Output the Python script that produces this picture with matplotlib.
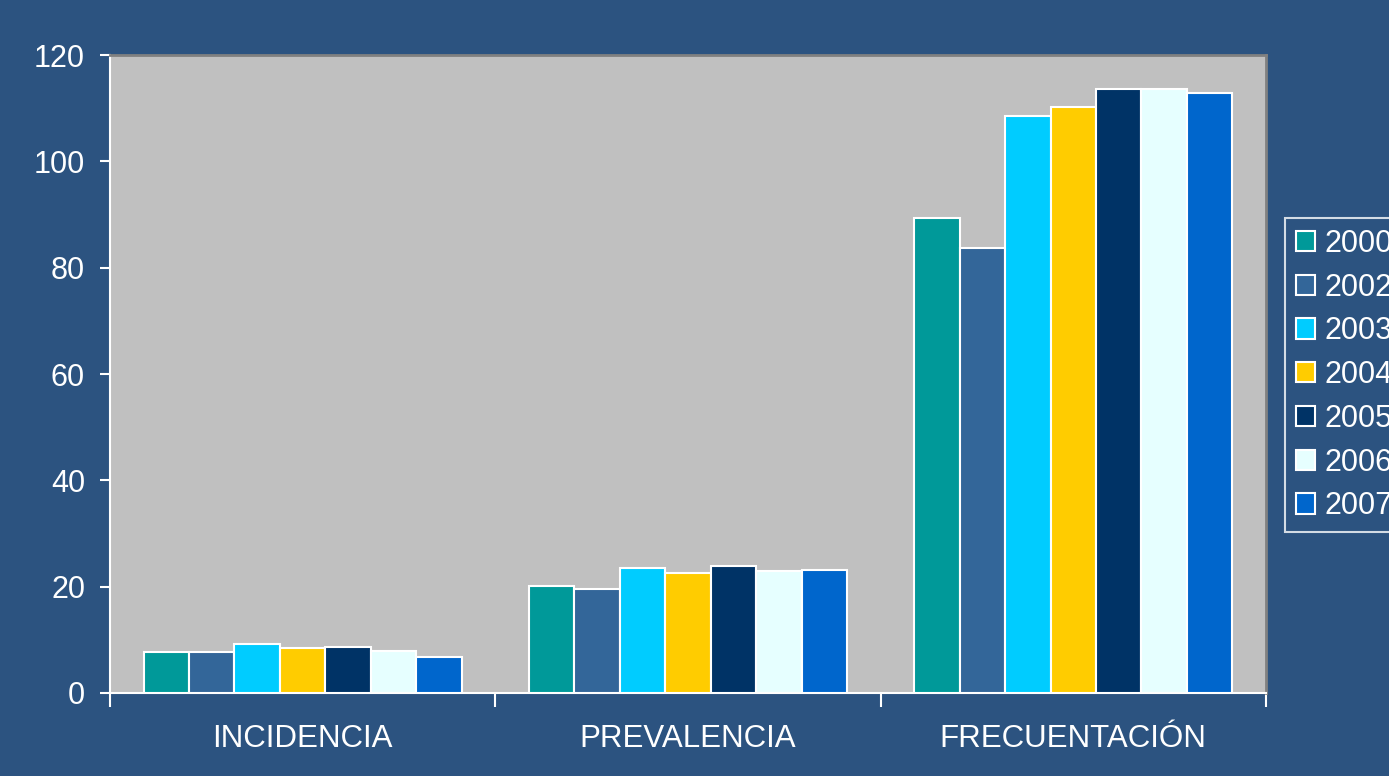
import numpy as np
import matplotlib
matplotlib.use("Agg")
import matplotlib.pyplot as plt

plt.rcParams['font.family'] = ['Liberation Sans', 'DejaVu Sans']

# datos
categorias = ['INCIDENCIA', 'PREVALENCIA', 'FRECUENTACIÓN']
anios = ['2000', '2002', '2003', '2004', '2005', '2006', '2007']
valores = {
    '2000': [7.7, 20.1, 89.3],
    '2002': [7.7, 19.5, 83.8],
    '2003': [9.3, 23.5, 108.5],
    '2004': [8.5, 22.6, 110.3],
    '2005': [8.7, 23.8, 113.7],
    '2006': [7.9, 23.0, 113.7],
    '2007': [6.8, 23.1, 112.8],
}
colores = ['#009999', '#336699', '#00CCFF', '#FFCC00', '#003366', '#E6FFFF', '#0066CC']

fondo = '#2C5380'

fig = plt.figure(figsize=(13.89, 7.76), dpi=100, facecolor=fondo)
ax = fig.add_axes([0.0792, 0.107, 0.8322, 0.822])
ax.set_facecolor('#C0C0C0')

x = np.arange(len(categorias))
ancho = 0.118
for i, anio in enumerate(anios):
    desp = (i - (len(anios) - 1) / 2) * ancho
    ax.bar(x + desp, valores[anio], width=ancho, color=colores[i],
           edgecolor='white', linewidth=1.5, label=anio, zorder=3)

ax.set_xlim(-0.5, len(categorias) - 0.5)
ax.set_ylim(0, 120)
ax.set_yticks(range(0, 121, 20))

# etiquetas de categoría centradas, ticks en los límites
ax.set_xticks(x)
ax.set_xticklabels(categorias)
ax.set_xticks(np.arange(-0.5, len(categorias), 1), minor=True)
ax.tick_params(axis='x', which='major', length=0, pad=22, labelsize=22.5, colors='white')
ax.tick_params(axis='x', which='minor', length=10, width=1.5, color='white')
ax.tick_params(axis='y', length=7, width=1.5, color='white', labelsize=22,
               labelcolor='white', pad=11)

for lado in ['top', 'right']:
    ax.spines[lado].set_color('#808080')
    ax.spines[lado].set_linewidth(2)
for lado in ['left', 'bottom']:
    ax.spines[lado].set_color('white')
    ax.spines[lado].set_linewidth(1.5)

leg = fig.legend(loc='upper left', bbox_to_anchor=(0.925, 0.719), fontsize=22,
                 frameon=True, fancybox=False, facecolor=fondo, edgecolor='white',
                 handlelength=0.65, handleheight=0.65, handletextpad=0.3,
                 labelspacing=0.45, borderpad=0.35, borderaxespad=0)
leg.get_frame().set_linewidth(1.5)
for t in leg.get_texts():
    t.set_color('white')

fig.savefig('out.png', dpi=100, facecolor=fondo)
